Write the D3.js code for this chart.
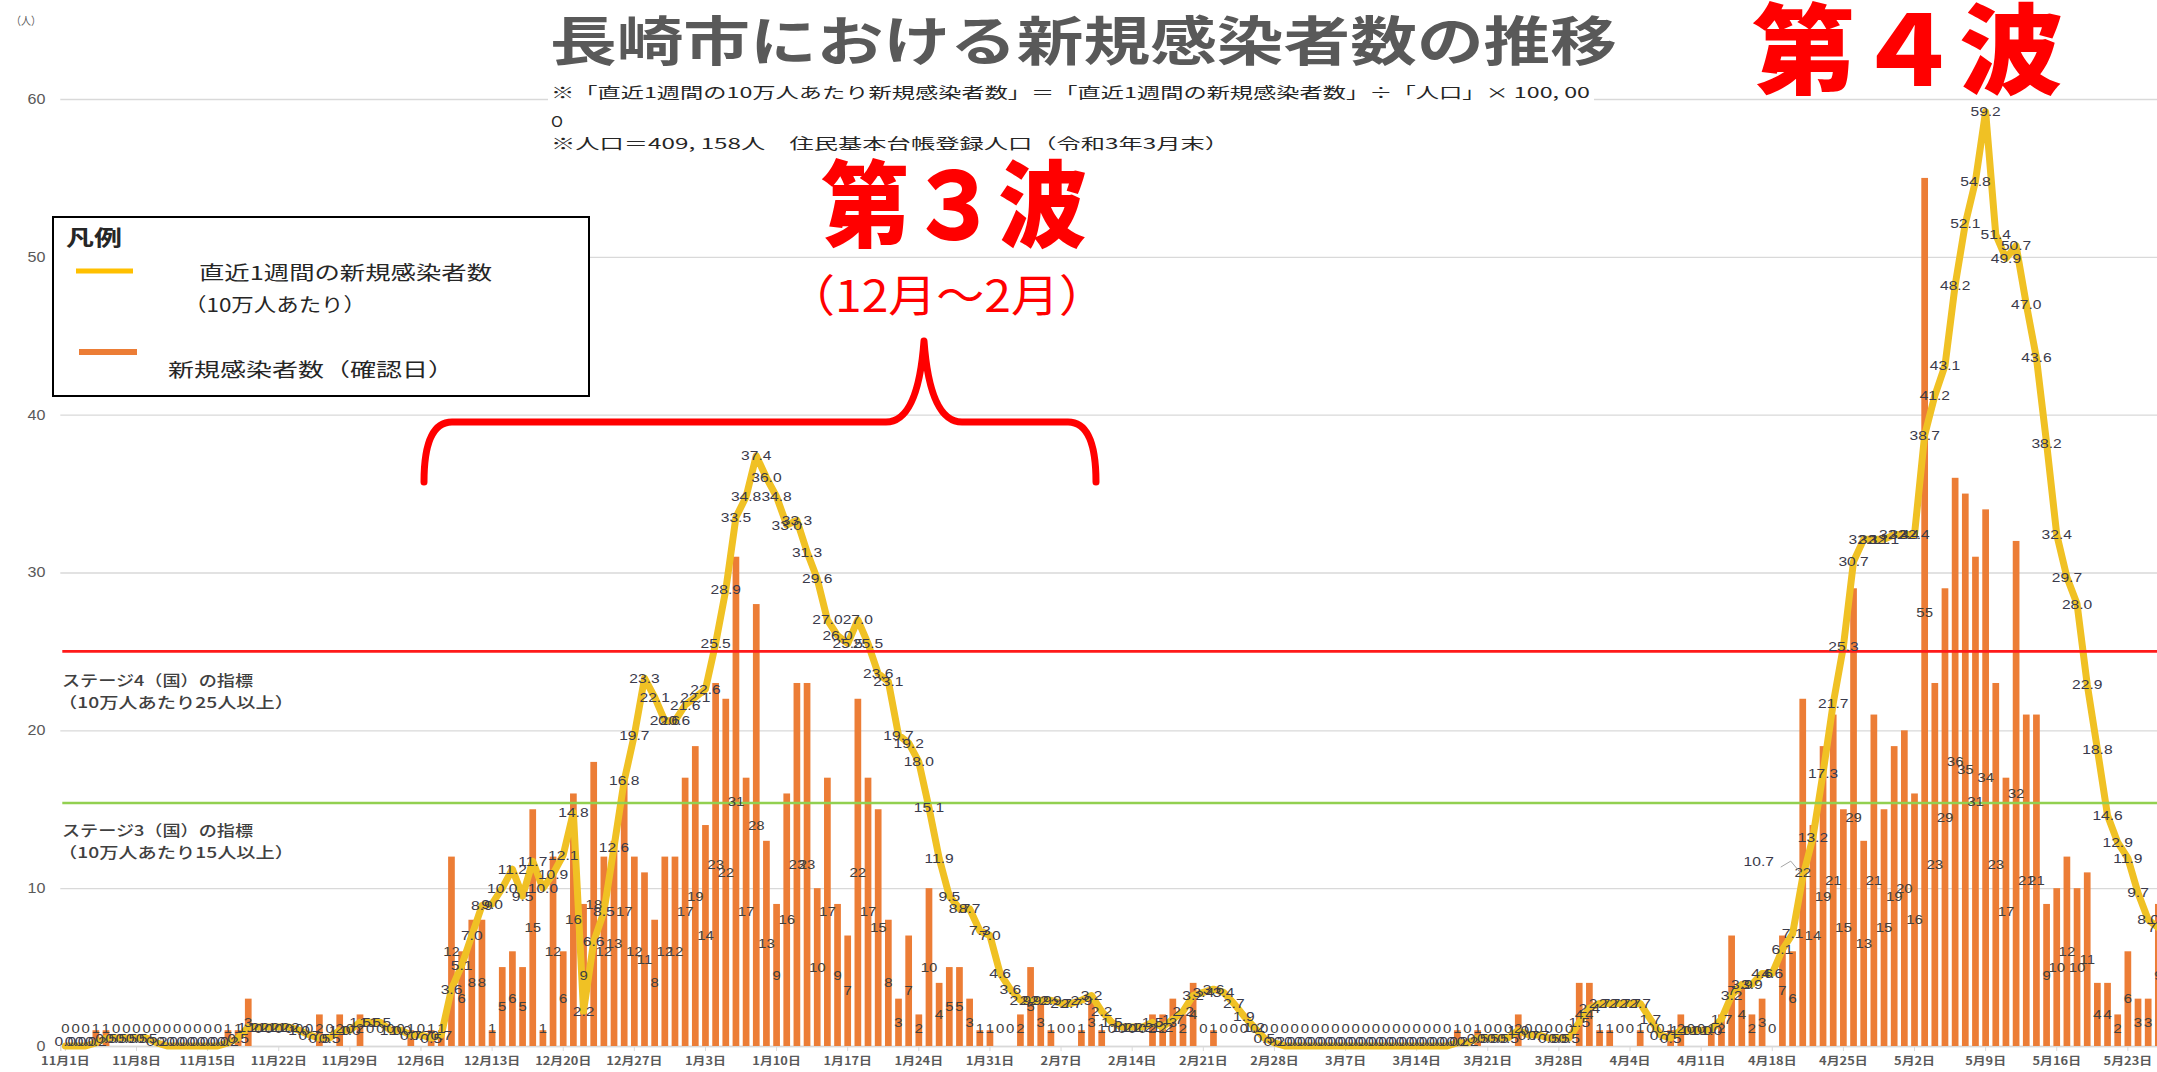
<!DOCTYPE html>
<html><head><meta charset="utf-8">
<script src="https://cdn.jsdelivr.net/npm/d3@7"></script>
<style>body{margin:0;background:#fff;overflow:hidden}svg{display:block}</style>
</head><body>
<svg id="c" width="2157" height="1072"></svg>
<script>
// ---------------- data ----------------
// daily new cases (confirmed date), from 2020-11-01
const dailyCases = [
 0,0,0,1,1,0,0,0,0,0,
 0,0,0,0,0,0,1,1,3,0,
 0,0,0,0,0,2,0,2,0,2,
 0,0,0,0,1,0,1,1,12,6,
 8,8,1,5,6,5,15,1,12,6,
 16,9,18,12,13,17,12,11,8,12,
 12,17,19,14,23,22,31,17,28,13,
 9,16,23,23,10,17,9,7,22,17,
 15,8,3,7,2,10,4,5,5,3,
 1,1,0,0,2,5,3,1,0,0,
 1,3,1,0,0,0,0,2,2,3,
 2,4,0,1,0,0,0,0,0,0,
 0,0,0,0,0,0,0,0,0,0,
 0,0,0,0,0,0,0,1,0,1,
 0,0,0,2,0,0,0,0,0,4,
 4,1,1,0,0,1,0,0,1,2,
 0,0,1,2,7,4,2,3,0,7,
 6,22,14,19,21,15,29,13,21,15,
 19,20,16,55,23,29,36,35,31,34,
 23,17,32,21,21,9,10,12,10,11,
 4,4,2,6,3,3,9
];
// new cases in the latest week per 100,000 people
const weeklyPer100k = [
 0.0,0.0,0.0,0.2,0.5,0.5,0.5,0.5,0.5,0.2,
 0.0,0.0,0.0,0.0,0.0,0.0,0.2,0.5,1.2,1.2,
 1.2,1.2,1.2,1.0,0.7,0.5,0.5,1.0,1.0,1.5,
 1.5,1.5,1.0,1.0,0.7,0.7,0.5,0.7,3.6,5.1,
 7.0,8.9,9.0,10.0,11.2,9.5,11.7,10.0,10.9,12.1,
 14.8,2.2,6.6,8.5,12.6,16.8,19.7,23.3,22.1,20.6,
 20.6,21.6,22.1,22.6,25.5,28.9,33.5,34.8,37.4,36.0,
 34.8,33.0,33.3,31.3,29.6,27.0,26.0,25.5,27.0,25.5,
 23.6,23.1,19.7,19.2,18.0,15.1,11.9,9.5,8.7,8.7,
 7.3,7.0,4.6,3.6,2.9,2.9,2.9,2.9,2.7,2.7,
 2.9,3.2,2.2,1.5,1.2,1.2,1.2,1.5,1.2,1.7,
 2.2,3.2,3.4,3.6,3.4,2.7,1.9,1.2,0.5,0.2,
 0.0,0.0,0.0,0.0,0.0,0.0,0.0,0.0,0.0,0.0,
 0.0,0.0,0.0,0.0,0.0,0.0,0.0,0.2,0.2,0.5,
 0.5,0.5,0.5,1.0,0.7,0.7,0.5,0.5,0.5,1.5,
 2.4,2.7,2.7,2.7,2.7,2.7,1.7,0.7,0.5,1.0,
 1.0,1.0,1.0,1.7,3.2,3.9,3.9,4.6,4.6,6.1,
 7.1,10.7,13.2,17.3,21.7,25.3,30.7,32.1,32.1,32.1,
 32.4,32.4,32.4,38.7,41.2,43.1,48.2,52.1,54.8,59.2,
 51.4,49.9,50.7,47.0,43.6,38.2,32.4,29.7,28.0,22.9,
 18.8,14.6,12.9,11.9,9.7,8.0,7.5
];
// x tick labels (every 7th day from 11/1)
const tickLabels = ["11月1日","11月8日","11月15日","11月22日","11月29日","12月6日","12月13日","12月20日","12月27日",
 "1月3日","1月10日","1月17日","1月24日","1月31日","2月7日","2月14日","2月21日","2月28日",
 "3月7日","3月14日","3月21日","3月28日","4月4日","4月11日","4月18日","4月25日","5月2日","5月9日","5月16日","5月23日"];
const yTicks = [0,10,20,30,40,50,60];
const stageValues = [25, 15.4];
const stageLabels = [["ステージ4（国）の指標","（10万人あたり25人以上）"],["ステージ3（国）の指標","（10万人あたり15人以上）"]];
const titleText = "長崎市における新規感染者数の推移";
const noteLines = ["※「直近1週間の10万人あたり新規感染者数」＝「直近1週間の新規感染者数」÷「人口」× 100, 00","O","※人口＝409, 158人　住民基本台帳登録人口（令和3年3月末）"];
const legendItems = ["直近1週間の新規感染者数","（10万人あたり）","新規感染者数（確認日）"];

// ---------------- chart ----------------
const W = 2157, H = 1072;
const svg = d3.select('#c');
const N = dailyCases.length;
const step = 10.16, left = 60.3;
const x = d3.scaleBand().domain(d3.range(N)).range([left, left + step * N]).paddingInner(0.34).paddingOuter(0.17);
const y = d3.scaleLinear().domain([0, 60]).range([1046, 99]);
const cx = i => x(i) + x.bandwidth() / 2;
const NUMF = "'Liberation Sans', Arial, sans-serif";
const JPF = "'Noto Sans CJK JP', sans-serif";
const ORANGE = "#EC7D36", GOLD = "#F0C124", LBL = "#404040";

// y axis + gridlines
const yAxis = svg.append('g').attr('transform', `translate(${left},0)`)
  .call(d3.axisLeft(y).tickValues(yTicks).tickSize(-(W - left)).tickPadding(13).tickFormat(d3.format('d')));
yAxis.select('.domain').remove();
yAxis.selectAll('.tick line').attr('stroke', '#D9D9D9').attr('stroke-width', 1.4);
yAxis.selectAll('.tick text').attr('fill', '#595959').style('font', `14px ${NUMF}`)
  .attr('transform', 'scale(1.15,1)');

svg.append('text').attr('x', 11).attr('y', 25).text('（人）')
  .attr('fill', '#595959').style('font', `11px ${JPF}`).attr('textLength', 30).attr('lengthAdjust', 'spacingAndGlyphs');

// x axis
const tickDays = tickLabels.map((_, i) => i * 7);
const xAxis = svg.append('g').attr('transform', `translate(0,${y(0)})`)
  .call(d3.axisBottom(x).tickValues(tickDays).tickSize(5).tickPadding(6).tickFormat(d => tickLabels[d / 7]));
xAxis.select('.domain').attr('stroke', '#D9D9D9').attr('stroke-width', 1.4);
xAxis.selectAll('.tick line').attr('stroke', '#D9D9D9');
xAxis.selectAll('.tick text').attr('fill', '#595959').style('font', `11px ${JPF}`).style('font-weight', 600)
  .attr('transform', 'scale(1.17,1)');

// bars
svg.append('g').selectAll('rect').data(dailyCases).join('rect')
  .attr('x', (d, i) => x(i)).attr('width', x.bandwidth())
  .attr('y', d => y(d)).attr('height', d => y(0) - y(d)).attr('fill', ORANGE);

// weekly line
const line = d3.line().x((d, i) => cx(i)).y(d => y(d));
svg.append('path').datum(weeklyPer100k).attr('d', line).attr('fill', 'none')
  .attr('stroke', GOLD).attr('stroke-width', 7).attr('stroke-linejoin', 'round').attr('stroke-linecap', 'round');

// stage lines
svg.append('g').selectAll('line').data(stageValues).join('line')
  .attr('x1', left + 2).attr('x2', W).attr('y1', d => y(d)).attr('y2', d => y(d))
  .attr('stroke', (d, i) => i === 0 ? '#FF1A1A' : '#92D050').attr('stroke-width', 2.6);

// bar labels (centred in bar)
svg.append('g').selectAll('text').data(dailyCases).join('text')
  .attr('transform', (d, i) => `translate(${cx(i)},${Math.min(y(d / 2), 1028)}) scale(1.15,1)`)
  .attr('text-anchor', 'middle').attr('dy', '0.35em')
  .attr('fill', LBL).style('font', `13px ${NUMF}`).text(d => d);

// line labels (centred on the point)
const lineLbl = svg.append('g');
weeklyPer100k.forEach((v, i) => {
  let tx = cx(i), ty = Math.min(y(v), 1041);
  if (i === 171) { // label moved to the left with a leader line
    lineLbl.append('path').attr('d', `M${tx - 22},${y(v) - 10} L${tx - 12},${y(v) - 16} L${tx - 2},${y(v) - 4}`)
      .attr('fill', 'none').attr('stroke', '#A6A6A6').attr('stroke-width', 1);
    tx -= 44; ty = y(v) - 16;
  }
  lineLbl.append('text').attr('transform', `translate(${tx},${ty}) scale(1.2,1)`)
    .attr('text-anchor', 'middle').attr('dy', '0.35em')
    .attr('fill', '#3A3A4A').style('font', `13px ${NUMF}`).text(v.toFixed(1));
});

// stage labels
const stageY = [[686, 708], [836, 858]];
stageLabels.forEach((pair, k) => {
  svg.append('text').attr('x', 62).attr('y', stageY[k][0]).text(pair[0])
    .attr('fill', LBL).style('font', `15px ${JPF}`).style('font-weight', 500)
    .attr('textLength', 191).attr('lengthAdjust', 'spacingAndGlyphs');
  svg.append('text').attr('x', 58).attr('y', stageY[k][1]).text(pair[1])
    .attr('fill', LBL).style('font', `15px ${JPF}`).style('font-weight', 500)
    .attr('textLength', 236).attr('lengthAdjust', 'spacingAndGlyphs');
});

// title
svg.append('text').attr('x', 550).attr('y', 61).text(titleText)
  .attr('fill', '#595959').style('font', `bold 53px ${JPF}`)
  .attr('textLength', 1067).attr('lengthAdjust', 'spacingAndGlyphs');

// notes box
svg.append('rect').attr('x', 548).attr('y', 79).attr('width', 1046).attr('height', 78).attr('fill', '#fff');
const noteY = [98, 127, 149], noteL = [1039, 12, 678];
noteLines.forEach((t, k) => {
  svg.append('text').attr('x', 551).attr('y', noteY[k]).text(t)
    .attr('fill', '#262626').style('font', `15px ${JPF}`)
    .attr('textLength', noteL[k]).attr('lengthAdjust', 'spacingAndGlyphs');
});

// legend
const lg = svg.append('g');
lg.append('rect').attr('x', 53).attr('y', 217).attr('width', 536).attr('height', 179)
  .attr('fill', '#fff').attr('stroke', '#000').attr('stroke-width', 2);
lg.append('text').attr('x', 66).attr('y', 245).text('凡例').attr('fill', '#262626')
  .style('font', `bold 21px ${JPF}`).attr('textLength', 56).attr('lengthAdjust', 'spacingAndGlyphs');
lg.append('line').attr('x1', 76).attr('x2', 133).attr('y1', 271).attr('y2', 271).attr('stroke', '#FFC000').attr('stroke-width', 5);
lg.append('line').attr('x1', 79).attr('x2', 137).attr('y1', 352).attr('y2', 352).attr('stroke', ORANGE).attr('stroke-width', 6);
const lgPos = [[199, 280, 293], [184, 312, 182], [168, 377, 286]];
legendItems.forEach((t, k) => {
  lg.append('text').attr('x', lgPos[k][0]).attr('y', lgPos[k][1]).text(t).attr('fill', '#262626')
    .style('font', `19px ${JPF}`).attr('textLength', lgPos[k][2]).attr('lengthAdjust', 'spacingAndGlyphs');
});

// wave annotations
svg.append('text').attr('x', 821).attr('y', 240).text('第３波').attr('fill', '#FF0000')
  .style('font', `900 94px ${JPF}`).attr('textLength', 266).attr('lengthAdjust', 'spacingAndGlyphs');
svg.append('text').attr('x', 787).attr('y', 312).text('（12月～2月）').attr('fill', '#FF0000')
  .style('font', `400 44px ${JPF}`).attr('textLength', 320).attr('lengthAdjust', 'spacingAndGlyphs');
svg.append('text').attr('x', 1752).attr('y', 86).text('第４波').attr('fill', '#FF0000')
  .style('font', `900 98px ${JPF}`).attr('textLength', 311).attr('lengthAdjust', 'spacingAndGlyphs');
svg.append('path')
  .attr('d', 'M424,482 Q424,422 452,422 L886,422 Q918,422 924,341 Q930,422 962,422 L1068,422 Q1096,422 1096,482')
  .attr('fill', 'none').attr('stroke', '#FF0000').attr('stroke-width', 7).attr('stroke-linecap', 'round').attr('stroke-linejoin', 'round');
</script>
</body></html>
